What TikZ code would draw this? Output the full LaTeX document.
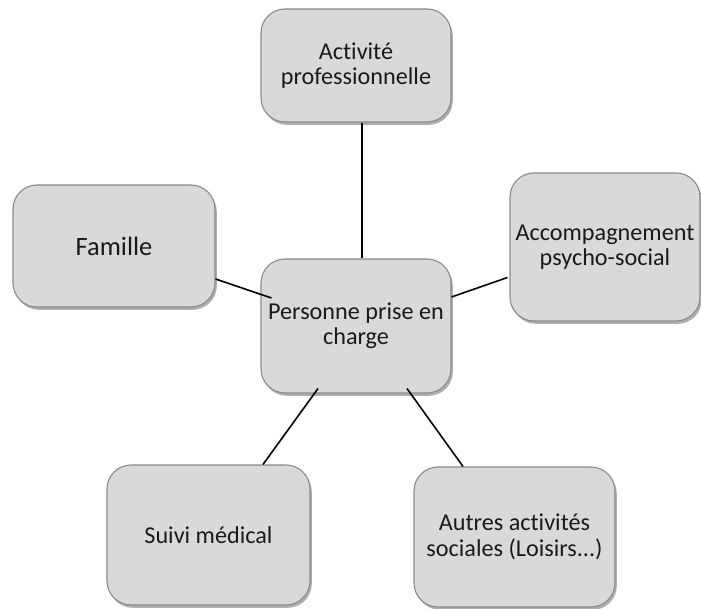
\documentclass[tikz,border=0pt]{standalone}
\usepackage{fontspec}
\setmainfont{Carlito}[Ligatures=NoCommon]
\usetikzlibrary{shadows}
\definecolor{boxfill}{HTML}{D9D9D9}
\definecolor{boxline}{HTML}{8A8A8A}
\definecolor{txt}{HTML}{1A1A1A}
\tikzset{
  topic/.style={draw=boxline, line width=1.1pt, fill=boxfill, rounded corners=24pt,
    align=center, text=txt, inner sep=0pt,
    font=\fontsize{24.2}{25.5}\selectfont,
    drop shadow={shadow xshift=1.8pt, shadow yshift=-2.8pt, opacity=0.45, fill=black!70}},
  link/.style={draw=black, line width=1.6pt}
}
\begin{document}
\begin{tikzpicture}[x=1pt,y=-1pt]
\useasboundingbox (0,0) rectangle (701,609);
\node[topic, minimum width=190pt, minimum height=113pt] (act) at (356,65.5) {Activité\\professionnelle};
\node[topic, minimum width=190pt, minimum height=134pt] (pers) at (356,326) {Personne prise en\\charge};
\node[topic, minimum width=190pt, minimum height=148pt] (acc) at (605,247) {Accompagnement\\psycho-social};
\node[topic, minimum width=202pt, minimum height=122pt, font=\fontsize{26.5}{28}\selectfont] (fam) at (114,246) {Famille};
\node[topic, minimum width=203pt, minimum height=140pt] (suivi) at (208.5,535) {Suivi médical};
\node[topic, minimum width=201pt, minimum height=140pt] (autres) at (514.5,537) {Autres activités\\sociales (Loisirs...)};
\draw[link] ([xshift=6pt]act.south) -- ([xshift=6pt]pers.north);
\draw[link] ([yshift=-33pt]fam.east) -- ([xshift=11pt,yshift=28pt]pers.west);
\draw[link] ([yshift=29pt]pers.east) -- ([xshift=-2pt,yshift=-30.5pt]acc.west);
\draw[link] ([xshift=-38pt,yshift=5pt]pers.south) -- ([xshift=54.5pt]suivi.north);
\draw[link] ([xshift=51pt,yshift=5pt]pers.south) -- ([xshift=-51.5pt]autres.north);
\end{tikzpicture}
\end{document}
